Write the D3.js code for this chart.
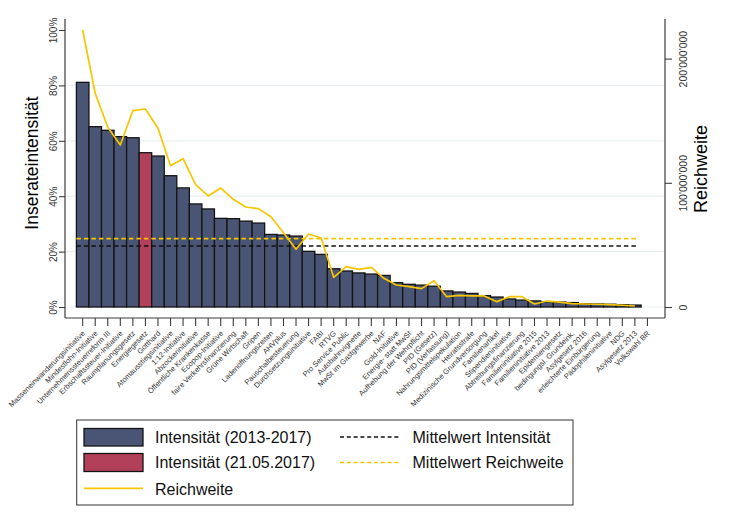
<!DOCTYPE html>
<html>
<head>
<meta charset="utf-8">
<script src="https://cdn.jsdelivr.net/npm/d3@7"></script>
<style>
  html, body { margin: 0; padding: 0; background: #fff; }
  svg { display: block; font-family: "Liberation Sans", Arial, sans-serif; }
</style>
</head>
<body>
<svg id="chart" width="730" height="531"></svg>
<script>
const categories = [
  "Masseneinwanderungsinitiative", "Mindestlohn-Initiative", "Unternehmenssteuerreform III",
  "Erbschaftssteuer-Initiative", "Raumplanungsgesetz", "Energiegesetz", "Gotthard",
  "Atomausstiegsinitiative", "1:12-Initiative", "Abzockerinitiative", "Öffentliche Krankenkasse",
  "Ecopop-Initiative", "faire Verkehrsfinanzierung", "Grüne Wirtschaft", "Gripen",
  "Ladenöffnungszeiten", "AHVplus", "Pauschalbesteuerung", "Durchsetzungsinitiative", "FABI",
  "RTVG", "Pro Service Public", "Autobahnvignette", "MwSt im Gastgewerbe", "NAF",
  "Gold-Initiative", "Energie- statt MwSt", "Aufhebung der Wehrpflicht", "PID (Gesetz)",
  "PID (Verfassung)", "Nahrungsmittelspekulation", "Heiratsstrafe", "Medizinische Grundversorgung",
  "Familienartikel", "Stipendieninitiative", "Abtreibungsfinanzierung", "Familieninitiative 2015",
  "Familieninitiative 2013", "Epidemiengesetz", "bedingungsl. Grundeink.", "Asylgesetz 2016",
  "erleichterte Einbürgerung", "Pädophileninitiative", "NDG", "Asylgesetz 2013", "Volkswahl BR"
];
// Inserateintensität in %
const intensity = [
  81.1, 65.1, 63.8, 61.5, 61.1, 55.7, 54.5, 47.4, 43.0, 37.2,
  35.4, 32.0, 31.9, 31.0, 30.3, 26.2, 26.0, 25.6, 20.1, 19.0,
  13.8, 13.0, 12.3, 11.9, 11.4, 8.8, 8.2, 7.9, 7.5, 5.8,
  5.4, 4.9, 4.1, 3.6, 2.9, 2.5, 2.2, 1.9, 1.8, 1.6,
  1.2, 1.1, 1.0, 0.8, 0.7, 0.0
];
// Reichweite (absolute)
const reach = [
  223e6, 172e6, 144.7e6, 130.4e6, 158.1e6, 159.4e6, 143.9e6, 113.8e6, 119.4e6, 98.5e6,
  89.4e6, 95.8e6, 86.7e6, 80.5e6, 79.2e6, 72.7e6, 59.8e6, 46.5e6, 58.8e6, 55.6e6,
  23.9e6, 32.5e6, 30.3e6, 31.9e6, 23.1e6, 17.7e6, 16.4e6, 14.8e6, 21.2e6, 8.3e6,
  9.4e6, 8.9e6, 8.9e6, 4.3e6, 8.3e6, 8.3e6, 2.4e6, 4.8e6, 4.0e6, 2.7e6,
  2.4e6, 2.2e6, 1.9e6, 1.4e6, 0.8e6, null
];
const highlighted = ["Energiegesetz"];
const meanIntensity = 22.0;
const meanReach = 55e6;
const leftTicks = [0, 20, 40, 60, 80, 100];
const gridTicks = [0, 20, 40, 60, 80];
const rightTicks = [0, 100000000, 200000000];
const legendLabels = ["Intensität (2013-2017)", "Intensität (21.05.2017)", "Reichweite",
                      "Mittelwert Intensität", "Mittelwert Reichweite"];

const NAVY = "#4a5474", RED = "#b3405a", GOLD = "#f7c600";

const svg = d3.select("#chart");
const x = d3.scaleBand().domain(categories).range([76.4, 653.7]).padding(0);
const yL = d3.scaleLinear().domain([0, 100]).range([307, 30]);
const yR = d3.scaleLinear().domain([0, 200e6]).range([307, 58.6]);
const plotL = 65, plotR = 665, plotT = 19, plotB = 318;

// gridlines
svg.append("g").selectAll("line").data(gridTicks).join("line")
  .attr("x1", plotL).attr("x2", plotR)
  .attr("y1", d => yL(d)).attr("y2", d => yL(d))
  .attr("stroke", "#e9eff1").attr("stroke-width", 1.2);

// bars
svg.append("g").selectAll("rect").data(categories).join("rect")
  .attr("x", d => x(d))
  .attr("y", (d, i) => yL(intensity[i]))
  .attr("width", x.bandwidth())
  .attr("height", (d, i) => yL(0) - yL(intensity[i]))
  .attr("fill", d => highlighted.includes(d) ? RED : NAVY)
  .attr("stroke", "#141414").attr("stroke-width", 1.3);

// mean lines
const xStart = x(categories[0]);
const xEnd = x(categories[categories.length - 1]) - 4;
svg.append("line").attr("x1", xStart).attr("x2", xEnd)
  .attr("y1", yL(meanIntensity)).attr("y2", yL(meanIntensity))
  .attr("stroke", "#111").attr("stroke-width", 1.6).attr("stroke-dasharray", "4.5,3");
svg.append("line").attr("x1", xStart).attr("x2", xEnd)
  .attr("y1", yR(meanReach)).attr("y2", yR(meanReach))
  .attr("stroke", GOLD).attr("stroke-width", 1.8).attr("stroke-dasharray", "4.5,3");

// reach line
const lineGen = d3.line()
  .defined(d => d.v != null)
  .x(d => x(d.c) + x.bandwidth() / 2)
  .y(d => yR(d.v));
svg.append("path")
  .datum(categories.map((c, i) => ({ c, v: reach[i] })))
  .attr("d", lineGen).attr("fill", "none")
  .attr("stroke", GOLD).attr("stroke-width", 1.7).attr("stroke-linejoin", "round");

// axes
const axisColor = "#3c3c3c";
const leftAxis = svg.append("g").attr("transform", `translate(${plotL},0)`)
  .call(d3.axisLeft(yL).tickValues(leftTicks).tickSize(6).tickFormat(d => d + "%"));
const rightFmt = d3.formatLocale({ decimal: ".", thousands: "'", grouping: [3], currency: ["", ""] }).format(",");
const rightAxis = svg.append("g").attr("transform", `translate(${plotR},0)`)
  .call(d3.axisRight(yR).tickValues(rightTicks).tickSize(7).tickFormat(rightFmt));
const bottomAxis = svg.append("g").attr("transform", `translate(0,${plotB})`)
  .call(d3.axisBottom(x).tickSize(8));

[leftAxis, rightAxis, bottomAxis].forEach(g => {
  g.select(".domain").remove();
  g.selectAll(".tick line").attr("stroke", axisColor).attr("stroke-width", 1.1);
});
svg.append("line").attr("x1", plotL).attr("x2", plotL).attr("y1", plotT).attr("y2", plotB)
  .attr("stroke", axisColor).attr("stroke-width", 1.2);
svg.append("line").attr("x1", plotR).attr("x2", plotR).attr("y1", plotT).attr("y2", plotB)
  .attr("stroke", axisColor).attr("stroke-width", 1.2);
svg.append("line").attr("x1", plotL).attr("x2", plotR).attr("y1", plotB).attr("y2", plotB)
  .attr("stroke", axisColor).attr("stroke-width", 1.2);

leftAxis.selectAll(".tick text")
  .attr("x", 0).attr("y", 0).attr("dy", 0)
  .attr("transform", "translate(-8,0) rotate(-90)")
  .attr("text-anchor", "middle")
  .attr("font-size", 10).attr("fill", "#333").attr("font-family", null);
rightAxis.selectAll(".tick text")
  .attr("x", 0).attr("y", 0).attr("dy", 0)
  .attr("transform", "translate(21.5,0) rotate(-90)")
  .attr("text-anchor", "middle")
  .attr("font-size", 10.5).attr("fill", "#333").attr("font-family", null);
bottomAxis.selectAll(".tick text")
  .attr("x", 0).attr("y", 0).attr("dy", "0.35em")
  .attr("transform", "translate(1,14) rotate(-45)")
  .attr("text-anchor", "end")
  .attr("font-size", 7.5).attr("fill", "#333").attr("font-family", null);

// axis titles
svg.append("text").attr("transform", "translate(38,163) rotate(-90)")
  .attr("text-anchor", "middle").attr("font-size", 17.5).attr("fill", "#000")
  .text("Inserateintensität");
svg.append("text").attr("transform", "translate(706.5,169) rotate(-90)")
  .attr("text-anchor", "middle").attr("font-size", 18).attr("fill", "#000")
  .text("Reichweite");

// legend
const lg = svg.append("g");
lg.append("rect").attr("x", 76.7).attr("y", 420).attr("width", 496.3).attr("height", 85)
  .attr("fill", "#fff").attr("stroke", "#333").attr("stroke-width", 1);
lg.append("rect").attr("x", 84).attr("y", 428.5).attr("width", 59).attr("height", 17.5)
  .attr("fill", NAVY).attr("stroke", "#141414").attr("stroke-width", 1.3);
lg.append("rect").attr("x", 84).attr("y", 453.5).attr("width", 59).attr("height", 18)
  .attr("fill", RED).attr("stroke", "#141414").attr("stroke-width", 1.3);
lg.append("line").attr("x1", 84).attr("x2", 143).attr("y1", 488.3).attr("y2", 488.3)
  .attr("stroke", GOLD).attr("stroke-width", 1.7);
lg.append("line").attr("x1", 340).attr("x2", 400).attr("y1", 437).attr("y2", 437)
  .attr("stroke", "#111").attr("stroke-width", 1.5).attr("stroke-dasharray", "4,2.8");
lg.append("line").attr("x1", 340).attr("x2", 400).attr("y1", 462.5).attr("y2", 462.5)
  .attr("stroke", GOLD).attr("stroke-width", 1.5).attr("stroke-dasharray", "4,2.8");
const legPos = [[155, 437.5], [155, 462.5], [155, 489], [412.5, 437.5], [412.5, 462.5]];
lg.selectAll("text.lab").data(legendLabels).join("text").attr("class", "lab")
  .attr("x", (d, i) => legPos[i][0]).attr("y", (d, i) => legPos[i][1])
  .attr("dy", "0.35em").attr("font-size", 16).attr("fill", "#111")
  .text(d => d);
</script>
</body>
</html>
